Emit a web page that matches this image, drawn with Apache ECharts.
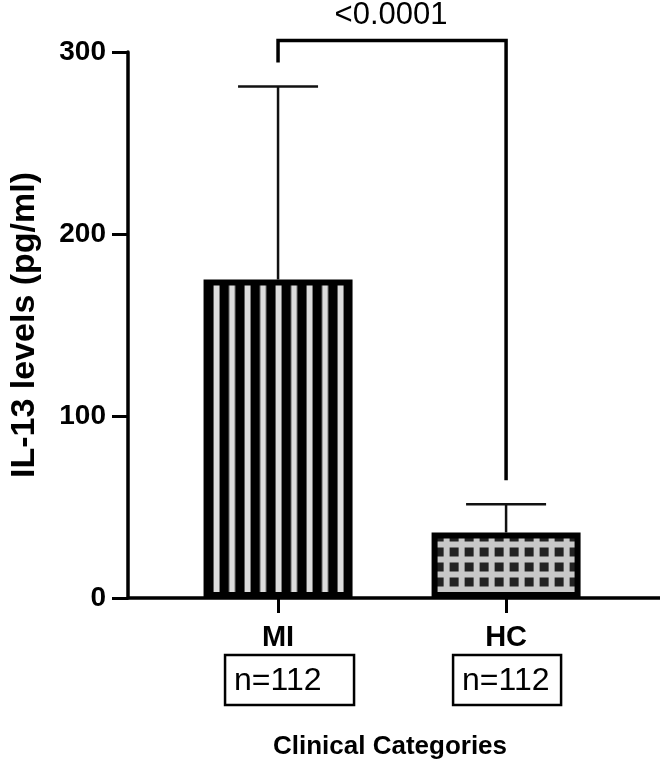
<!DOCTYPE html>
<html><head><meta charset="utf-8">
<script src="https://cdn.jsdelivr.net/npm/echarts@6/dist/echarts.min.js"></script>
<style>html,body{margin:0;padding:0;background:#fff}#c{width:660px;height:765px}</style>
</head><body><div id="c"></div>
<script>
// ---- data ----
const categories = ['MI', 'HC'];
const means = [175, 36];
const sds = [106, 15.5];
const nCounts = [112, 112];
const yTickValues = [0, 100, 200, 300];
const pLabel = '<0.0001';
const xTitle = 'Clinical Categories';
const yTitle = 'IL-13 levels (pg/ml)';

// ---- style ----
const FONT = '"Liberation Sans", Arial, Helvetica, sans-serif';
const BAR_W = 149;
const BORDER = 6;

function stripeCanvas() {
  const c = document.createElement('canvas');
  c.width = 31; c.height = 4;
  const g = c.getContext('2d');
  g.fillStyle = '#000'; g.fillRect(0, 0, 31, 4);
  g.fillStyle = '#dcdcdc';
  g.fillRect(0, 0, 6, 4);
  g.fillRect(15.5, 0, 6, 4);
  return c;
}
function checkCanvas() {
  const c = document.createElement('canvas');
  c.width = 15; c.height = 15;
  const g = c.getContext('2d');
  g.fillStyle = '#c8c8c8'; g.fillRect(0, 0, 15, 15);
  g.fillStyle = '#222'; g.fillRect(0, 0, 9, 9);
  return c;
}

const chart = echarts.init(document.getElementById('c'), null, {renderer: 'canvas'});

function buildOption(patterns) {
  return {
    animation: false,
    backgroundColor: '#fff',
    grid: {left: 114, right: 0, top: 52, bottom: 165, containLabel: false},
    xAxis: {
      type: 'value',
      min: -0.658, max: 1.675,
      name: xTitle, nameLocation: 'middle', nameGap: 136,
      nameTextStyle: {fontFamily: FONT, fontWeight: 'bold', fontSize: 26, color: '#000', padding: [0, 8, 0, 0]},
      axisLine: {onZero: false, lineStyle: {color: '#000', width: 3.5}},
      axisTick: {show: true, customValues: [0, 1], length: 15, lineStyle: {color: '#000', width: 3}},
      axisLabel: {customValues: [0, 1], formatter: v => categories[Math.round(v)] || '',
        fontFamily: FONT, fontWeight: 'bold', fontSize: 29, color: '#000', margin: 25},
      splitLine: {show: false}
    },
    yAxis: {
      type: 'value', min: 0, max: 300, interval: 100,
      name: yTitle, nameLocation: 'middle', nameGap: 86,
      nameTextStyle: {fontFamily: FONT, fontWeight: 'bold', fontSize: 34, color: '#000'},
      axisLine: {show: true, onZero: false, lineStyle: {color: '#000', width: 3.5}},
      axisTick: {show: true, length: 16, lineStyle: {color: '#000', width: 3}},
      axisLabel: {fontFamily: FONT, fontWeight: 'bold', fontSize: 28, color: '#000', margin: 22,
        formatter: v => yTickValues.indexOf(v) >= 0 ? String(v) : ''},
      splitLine: {show: false}
    },
    series: [
      {
        type: 'custom', z: 1, clip: false,
        data: means.map((m, i) => [i, m, m + sds[i]]),
        renderItem: (params, api) => {
          const x = api.value(0);
          const p0 = api.coord([x, api.value(1)]);
          const p1 = api.coord([x, api.value(2)]);
          const hw = 40;
          return {type: 'group', children: [
            {type: 'line', shape: {x1: p0[0], y1: p0[1], x2: p1[0], y2: p1[1]}, style: {stroke: '#111', lineWidth: 2.5}},
            {type: 'line', shape: {x1: p1[0] - hw, y1: p1[1], x2: p1[0] + hw, y2: p1[1]}, style: {stroke: '#111', lineWidth: 2.5}}
          ]};
        }
      },
      {
        type: 'bar', z: 2, barWidth: BAR_W,
        data: means.map((m, i) => ({value: [i, m], itemStyle: {color: patterns ? patterns[i] : '#888'}})),
        itemStyle: {borderColor: '#000', borderWidth: BORDER}
      },
      {
        type: 'custom', z: 3, clip: false,
        data: [[0, 1]],
        renderItem: (params, api) => {
          const a = api.value(0), b = api.value(1);
          const pa = api.coord([a, means[a] + sds[a]]);
          const pb = api.coord([b, means[b] + sds[b]]);
          const top = Math.min(pa[1], pb[1]) - 46;
          return {type: 'group', children: [
            {type: 'polyline', shape: {points: [[pa[0], pa[1] - 24], [pa[0], top], [pb[0], top], [pb[0], pb[1] - 24]]},
              style: {stroke: '#000', lineWidth: 3.5, fill: null, lineJoin: 'miter'}},
            {type: 'text', x: (pa[0] + pb[0]) / 2 - 1, y: top - 25,
              style: {text: pLabel, fontFamily: FONT, fontSize: 31, fill: '#000', align: 'center', verticalAlign: 'middle'}}
          ]};
        }
      },
      {
        type: 'custom', z: 3, clip: false,
        data: nCounts.map((n, i) => [i, n]),
        renderItem: (params, api) => {
          const i = api.value(0);
          const p = api.coord([i, 0]);
          const widths = [129, 108];
          const left = p[0] - 53, top = p[1] + 57, h = 50;
          return {type: 'group', children: [
            {type: 'rect', shape: {x: left, y: top, width: widths[i], height: h},
              style: {stroke: '#000', lineWidth: 2.5, fill: '#fff'}},
            {type: 'text', x: left + 9, y: top + h / 2 + 1,
              style: {text: 'n=' + api.value(1), fontFamily: FONT, fontSize: 32, fill: '#000', align: 'left', verticalAlign: 'middle'}}
          ]};
        }
      }
    ]
  };
}

chart.setOption(buildOption(null));
// align patterns with each bar's actual pixel rectangle
const pats = means.map((m, i) => {
  const pc = chart.convertToPixel({gridIndex: 0}, [i, m]);
  const rectLeft = pc[0] - BAR_W / 2;
  if (i === 0) return {image: stripeCanvas(), repeat: 'repeat', x: rectLeft + 10, y: 0};
  return {image: checkCanvas(), repeat: 'repeat', x: rectLeft + 3, y: pc[1]};
});
chart.setOption(buildOption(pats));
</script>
</body></html>
